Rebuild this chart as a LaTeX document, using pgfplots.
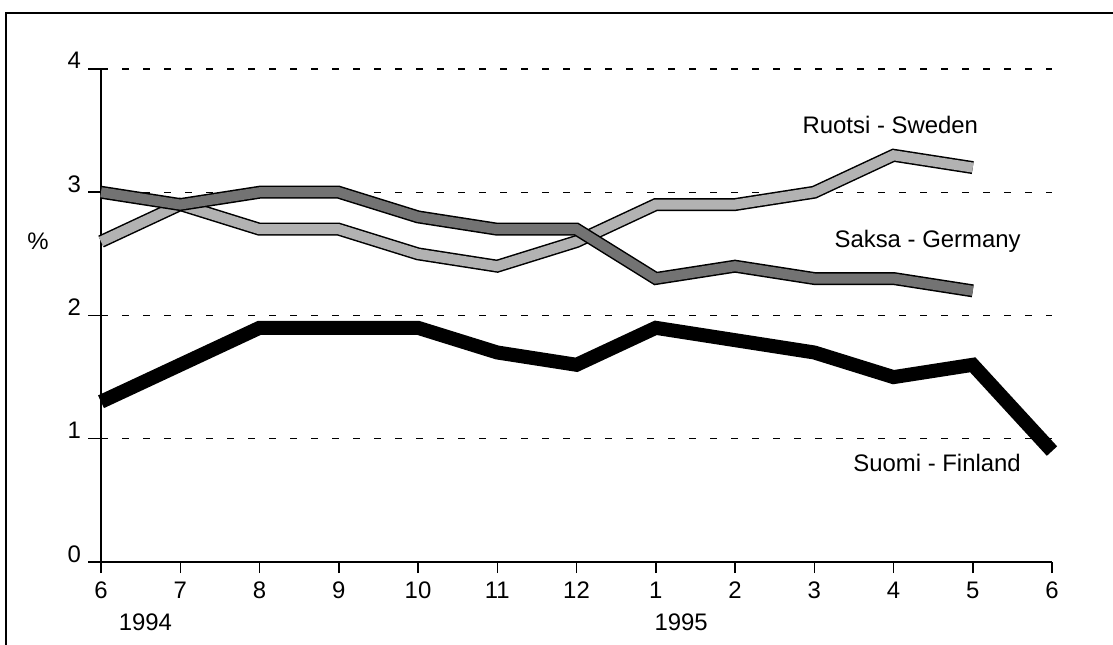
\documentclass[border=0pt]{standalone}
\usepackage{pgfplots}
\pgfplotsset{compat=1.18}
\usepackage{fontspec}
\setmainfont{Liberation Sans}
\begin{document}
\begin{tikzpicture}
\path[use as bounding box] (0bp,0bp) rectangle (1113bp,645bp);
\draw[line width=1.5bp] (6bp,0bp) -- (6bp,632bp) -- (1113bp,632bp);
\begin{axis}[
  at={(101bp,83bp)}, anchor=south west,
  scale only axis, width=951bp, height=493bp,
  xmin=0, xmax=12, ymin=0, ymax=4,
  axis lines*=left,
  axis line style={line width=1.5bp},
  clip=false,
  xtick={0,...,12},
  xticklabels={6,7,8,9,10,11,12,1,2,3,4,5,6},
  ytick={0,1,2,3,4},
  tick align=outside,
  major tick length=11bp,
  tick style={line width=1.5bp, black},
  ymajorgrids,
  grid style={dash pattern=on 7bp off 14bp, line width=1.3bp, black},
  /pgf/number format/assume math mode=true,
  ticklabel style={font=\fontsize{24}{28}\selectfont, inner sep=0pt},
  yticklabel style={anchor=base east, xshift=-9bp},
  xticklabel style={anchor=north, yshift=-9bp},
  line join=miter,
]
% Sweden
\addplot[black, line width=13bp, forget plot] coordinates {
(0,2.6)(1,2.9)(2,2.7)(3,2.7)(4,2.5)(5,2.4)(6,2.6)(7,2.9)(8,2.9)(9,3.0)(10,3.3)(11,3.2)};
\addplot[black!30, line width=10bp, forget plot] coordinates {
(0,2.6)(1,2.9)(2,2.7)(3,2.7)(4,2.5)(5,2.4)(6,2.6)(7,2.9)(8,2.9)(9,3.0)(10,3.3)(11,3.2)};
% Germany
\addplot[black, line width=13bp, forget plot] coordinates {
(0,3.0)(1,2.9)(2,3.0)(3,3.0)(4,2.8)(5,2.7)(6,2.7)(7,2.3)(8,2.4)(9,2.3)(10,2.3)(11,2.2)};
\addplot[black!55, line width=10bp, forget plot] coordinates {
(0,3.0)(1,2.9)(2,3.0)(3,3.0)(4,2.8)(5,2.7)(6,2.7)(7,2.3)(8,2.4)(9,2.3)(10,2.3)(11,2.2)};
% Finland
\addplot[black, line width=14bp, forget plot] coordinates {
(0,1.3)(1,1.6)(2,1.9)(3,1.9)(4,1.9)(5,1.7)(6,1.6)(7,1.9)(8,1.8)(9,1.7)(10,1.5)(11,1.6)(12,0.9)};
\pgfplotsinvokeforeach{0,...,12}{\draw[line width=1.5bp] (axis cs:#1,0) -- ++(0bp,-10bp);}
\pgfplotsinvokeforeach{0,...,4}{\draw[line width=1.5bp] (axis cs:0,#1) -- ++(-13bp,0bp);}
\node[font=\fontsize{24}{28}\selectfont] at (axis cs:9.96,3.55) {Ruotsi - Sweden};
\node[font=\fontsize{24}{28}\selectfont] at (axis cs:10.43,2.6) {Saksa - Germany};
\node[font=\fontsize{24}{28}\selectfont] at (axis cs:10.55,0.80) {Suomi - Finland};
\node[font=\fontsize{24}{28}\selectfont] at (axis cs:-0.795,2.6) {\%};
\node[font=\fontsize{24}{28}\selectfont, anchor=west] at (axis cs:0.18,-0.49) {1994};
\node[font=\fontsize{24}{28}\selectfont, anchor=west] at (axis cs:6.94,-0.49) {1995};
\end{axis}
\end{tikzpicture}
\end{document}
